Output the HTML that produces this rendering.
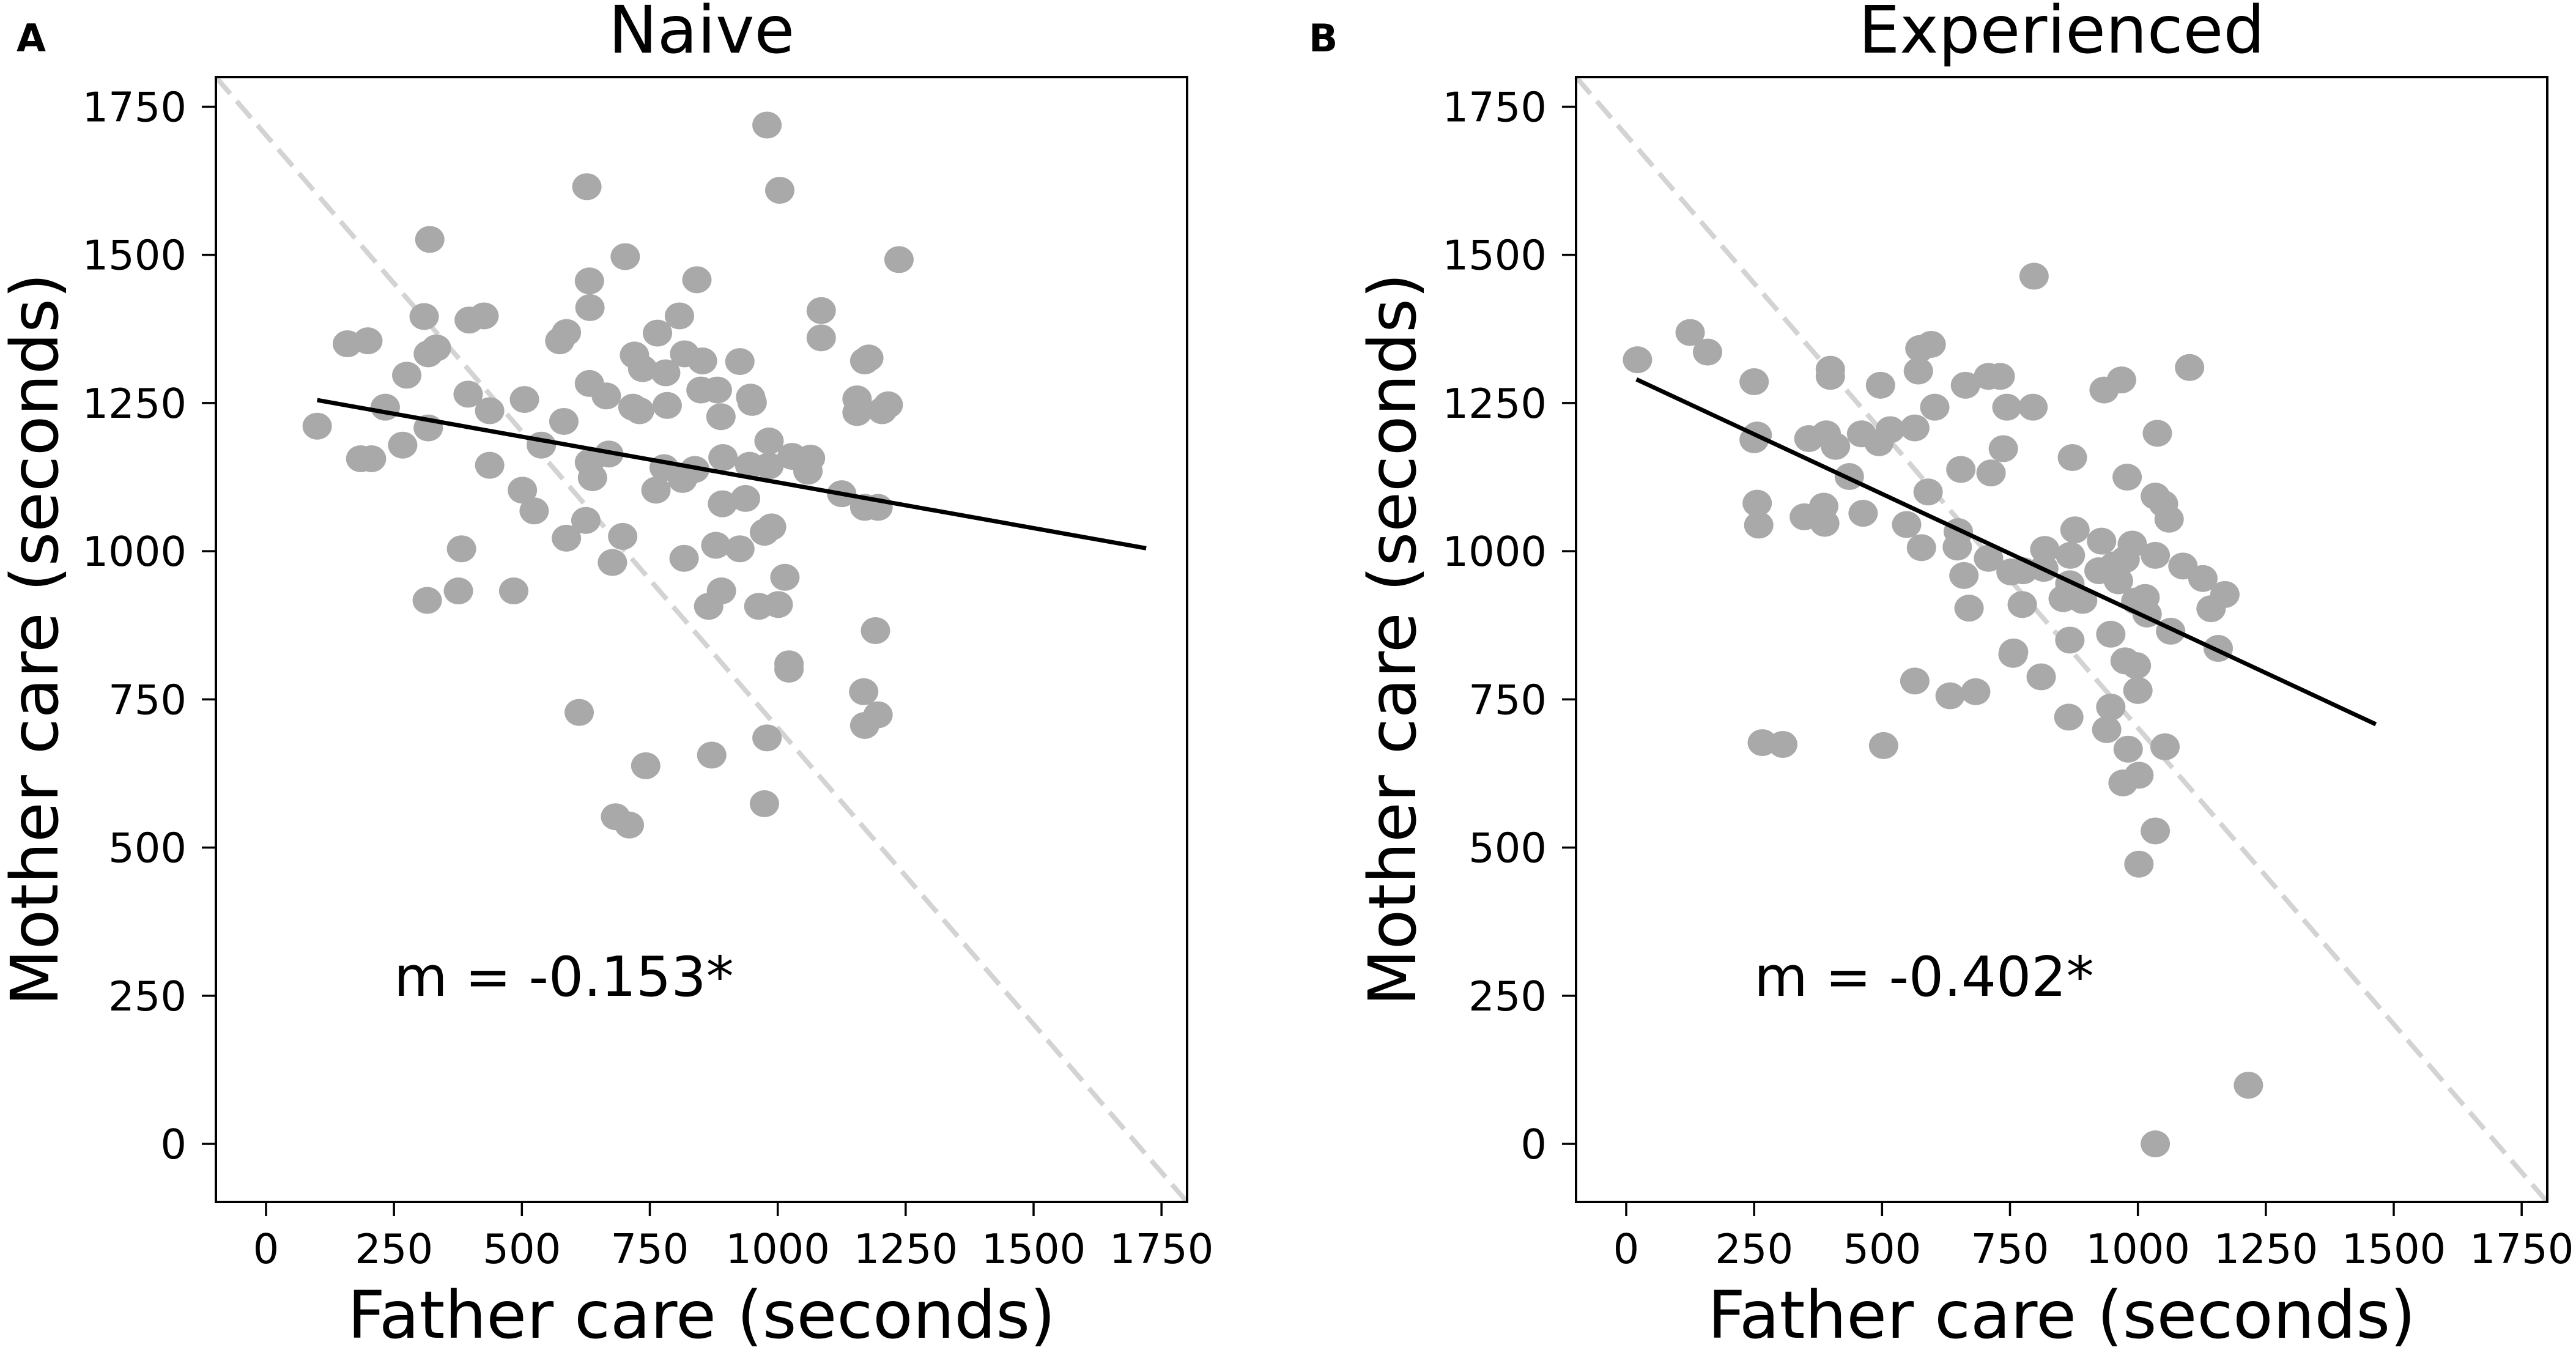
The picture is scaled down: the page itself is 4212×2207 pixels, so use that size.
<!DOCTYPE html>
<html><head><meta charset="utf-8"><style>
html,body{margin:0;padding:0;background:#fff;}
svg{display:block;font-family:"DejaVu Sans","Liberation Sans",sans-serif;}
</style></head><body>
<svg id="fig" width="4212" height="2207" viewBox="0 0 4212 2207" xmlns="http://www.w3.org/2000/svg">
<rect width="4212" height="2207" fill="#fff"/>
</svg>
<script>
const tickValues = [0,250,500,750,1000,1250,1500,1750];
const naiveX = [979,1004,627,320,702,1237,842,632,633,309,397,426,808,1085,1085,587,574,765,159,199,333,317,720,818,853,926,1170,1178,736,781,275,632,665,850,882,947,950,1155,1155,1204,1216,784,395,505,437,233,100,317,582,717,730,889,983,267,538,670,632,638,185,206,437,893,945,983,1028,1064,1059,778,814,838,762,501,524,625,1125,1170,1196,892,937,587,697,988,974,879,926,382,817,677,1014,315,376,484,890,865,963,1001,1191,1022,1022,1168,1196,1170,612,979,871,742,974,683,710];
const naiveY = [1719,1609,1615,1526,1497,1492,1458,1456,1411,1396,1390,1397,1397,1406,1360,1369,1355,1368,1350,1355,1343,1333,1331,1333,1321,1320,1321,1326,1308,1301,1297,1283,1262,1272,1272,1260,1251,1257,1234,1237,1247,1246,1265,1256,1237,1243,1211,1208,1219,1243,1237,1227,1186,1179,1179,1164,1150,1124,1156,1156,1145,1158,1145,1144,1160,1157,1135,1141,1121,1138,1103,1103,1068,1052,1097,1074,1074,1080,1089,1022,1025,1041,1032,1010,1004,1004,988,981,956,917,933,933,933,907,907,910,866,810,801,763,724,706,728,685,656,638,574,552,538];
const expX = [22,125,159,797,596,574,571,399,399,250,497,663,708,731,968,934,1101,795,744,603,564,516,494,460,391,357,409,256,250,1038,737,872,654,713,436,979,590,1034,1050,1061,256,259,386,388,348,463,548,577,649,647,708,818,868,877,929,989,1034,1088,1127,1170,1143,1157,1064,1014,996,1018,975,954,924,962,892,854,867,816,776,752,774,660,670,867,947,756,757,811,564,633,683,975,997,1000,865,947,939,266,306,503,981,1053,971,1002,1034,1002,1216,1034];
const expY = [1323,1369,1336,1464,1349,1342,1304,1307,1295,1286,1280,1280,1295,1295,1289,1272,1310,1243,1243,1243,1208,1205,1183,1198,1198,1190,1177,1196,1188,1199,1173,1158,1138,1132,1126,1125,1100,1093,1080,1054,1081,1044,1076,1047,1058,1064,1045,1006,1033,1007,988,1003,993,1036,1017,1012,993,975,954,927,903,836,865,922,916,894,986,977,967,950,917,920,945,971,967,965,910,959,904,850,860,826,830,788,781,756,763,815,807,765,720,737,699,677,674,672,666,670,609,622,528,472,99,0];
const fitAX = [100,1720], fitAY = [1255,1005];
const fitBX = [20,1465],  fitBY = [1290,708];
const slopeA = "m = -0.153*", slopeB = "m = -0.402*";

const NS="http://www.w3.org/2000/svg", svg=document.getElementById('fig');
function el(tag,attrs,parent){const e=document.createElementNS(NS,tag);for(const k in attrs)e.setAttribute(k,attrs[k]);(parent||svg).appendChild(e);return e;}
const LO=-98, HI=1800, TOP=126, BOT=1965;
function panel(name,left,right,xs,ys,fx,fy,title,letter,slope,letterX,ylabX){
  const g=el('g',{});
  
  
  const sx=v=>left+(v-LO)/(HI-LO)*(right-left);
  const sy=v=>BOT-(v-LO)/(HI-LO)*(BOT-TOP);
  const diag=el('line',{x1:left,y1:TOP,x2:right,y2:BOT,stroke:'#d3d3d3','stroke-width':8,'stroke-dasharray':'36 16'},g);
  
  
  for(let i=0;i<xs.length;i++){
    const c=el('ellipse',{cx:sx(xs[i]),cy:sy(ys[i]),rx:24,ry:22,fill:'#a9a9a9'},g);
    
    
  }
  const fl=el('line',{x1:sx(fx[0]),y1:sy(fy[0]),x2:sx(fx[1]),y2:sy(fy[1]),stroke:'#000','stroke-width':7},g);
  
  
  const box=el('rect',{x:left,y:TOP,width:right-left,height:BOT-TOP,fill:'none',stroke:'#000','stroke-width':4},g);
  
  
  tickValues.forEach(v=>{
    const X=sx(v), Y=sy(v);
    el('line',{x1:X,y1:BOT,x2:X,y2:BOT+23,stroke:'#000','stroke-width':3.5},g);
    const tx=el('text',{x:X,y:2065,'font-size':67,'text-anchor':'middle'},g);
    tx.textContent=v;
    
    
    el('line',{x1:left-23,y1:Y,x2:left,y2:Y,stroke:'#000','stroke-width':3.5},g);
    const ty=el('text',{x:left-48,y:Y+24,'font-size':67,'text-anchor':'end'},g);
    ty.textContent=v;
    
    
  });
  const xl=el('text',{x:(left+right)/2,y:2187,'font-size':107,'text-anchor':'middle'},g);
  xl.textContent='Father care (seconds)';
  
  
  const yl=el('text',{x:0,y:0,'font-size':107,'text-anchor':'middle',transform:`translate(${ylabX},${(TOP+BOT)/2}) rotate(-90)`},g);
  yl.textContent='Mother care (seconds)';
  
  
  const t=el('text',{x:(left+right)/2,y:86,'font-size':107,'text-anchor':'middle'},g);
  t.textContent=title;
  
  
  const L=el('text',{x:letterX,y:84,'font-size':62,'font-weight':'bold'},g);
  L.textContent=letter;
  
  
  const m=el('text',{x:sx(250),y:sy(250),'font-size':90},g);
  m.textContent=slope;
  
  
}
panel('naive',353,1941,naiveX,naiveY,fitAX,fitAY,'Naive','A',slopeA,27,94);
panel('experienced',2577,4165,expX,expY,fitBX,fitBY,'Experienced','B',slopeB,2140,2314);
</script>
</body></html>
